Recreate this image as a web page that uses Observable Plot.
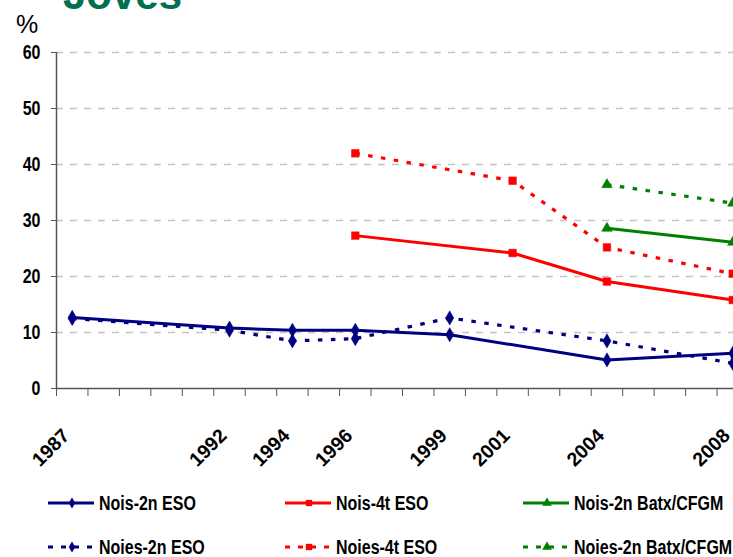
<!DOCTYPE html>
<html>
<head>
<meta charset="utf-8">
<script src="https://cdn.jsdelivr.net/npm/d3@7"></script>
<script src="https://cdn.jsdelivr.net/npm/@observablehq/plot@0.6"></script>
<style>
  html, body { margin: 0; padding: 0; background: #fff; }
  body { width: 733px; height: 557px; overflow: hidden; position: relative;
         font-family: "Liberation Sans", Arial, sans-serif; }
  #title { position: absolute; left: 63px; top: -26px;
           font-weight: bold; font-size: 42px; line-height: 42px; color: #00704F; white-space: nowrap; }
  #pct { position: absolute; left: 16px; top: 12px;
         font-size: 25px; line-height: 25px; color: #000; }
  #chart { position: absolute; left: 0; top: 0; width: 760px; }
  #chart svg { max-width: none !important; width: 760px; height: 470px; }
  .leg { position: absolute; display: flex; align-items: center; white-space: nowrap;
         font-weight: bold; font-size: 19.5px; color: #000; height: 24px; }
  .leg svg { display: block; margin-right: 5px; flex: none; }
  .leg span { display: inline-block; transform: scaleX(0.82); transform-origin: 0 50%; }
</style>
</head>
<body>
<div id="title">Joves</div>
<div id="pct">%</div>
<div id="chart"></div>
<div id="legend"></div>
<script>
// ---- data ----
const tickYears = [1987, 1992, 1994, 1996, 1999, 2001, 2004, 2008];
const yearsESO2 = [1987, 1992, 1994, 1996, 1999, 2004, 2008];
const noisESO2  = [12.7, 10.8, 10.4, 10.4, 9.6, 5.1, 6.3];
const noiesESO2 = [12.5, 10.4, 8.5, 8.9, 12.6, 8.5, 4.5];
const yearsESO4 = [1996, 2001, 2004, 2008];
const noisESO4  = [27.3, 24.2, 19.1, 15.8];
const noiesESO4 = [42.0, 37.1, 25.2, 20.5];
const yearsBatx = [2004, 2008];
const noisBatx  = [28.6, 26.1];
const noiesBatx = [36.4, 33.1];
const seriesNames = ["Nois-2n ESO", "Nois-4t ESO", "Nois-2n Batx/CFGM",
                     "Noies-2n ESO", "Noies-4t ESO", "Noies-2n Batx/CFGM"];

const navy = "#000080", red = "#FF0000", green = "#008000";
const mk = (years, vals) => years.map((y, i) => ({year: y, value: vals[i]}));

const series = [
  {name: seriesNames[3], data: mk(yearsESO2, noiesESO2), color: navy, dash: true,  symbol: "diamond", r: 4.3},
  {name: seriesNames[0], data: mk(yearsESO2, noisESO2),  color: navy, dash: false, symbol: "diamond", r: 4.3},
  {name: seriesNames[4], data: mk(yearsESO4, noiesESO4), color: red,  dash: true,  symbol: "square",  r: 4.3},
  {name: seriesNames[1], data: mk(yearsESO4, noisESO4),  color: red,  dash: false, symbol: "square",  r: 4.3},
  {name: seriesNames[5], data: mk(yearsBatx, noiesBatx), color: green, dash: true,  symbol: "triangle", r: 3.9},
  {name: seriesNames[2], data: mk(yearsBatx, noisBatx),  color: green, dash: false, symbol: "triangle", r: 3.9}
];

const boundaries = d3.range(1986.5, 2009.5, 1);
const marks = [
  Plot.gridY([10, 20, 30, 40, 50, 60], {stroke: "#c4c4c4", strokeOpacity: 1, strokeWidth: 1.5, strokeDasharray: "7,7"}),
  Plot.axisY([0, 10, 20, 30, 40, 50, 60], {tickSize: 5, tickPadding: 11, stroke: "#555", fill: "#000",
    fontSize: 19.5, fontWeight: "bold", label: null, tickFormat: d => String(d), className: "yax"}),
  Plot.ruleX([1986.5], {y1: 0, y2: 60, stroke: "#555", strokeWidth: 1.5}),
  Plot.ruleY([0], {stroke: "#555", strokeWidth: 1.5}),
  Plot.axisX(boundaries, {tickSize: 8, stroke: "#555", tickFormat: () => "", label: null}),
  Plot.axisX(tickYears, {tickSize: 0, tickPadding: 44, tickRotate: -45, dx: -6, fill: "#000",
    fontSize: 19.5, fontWeight: "bold", label: null, tickFormat: d => String(d)})
];
for (const s of series) {
  marks.push(Plot.line(s.data, {x: "year", y: "value", stroke: s.color, strokeWidth: s.dash ? 3.2 : 3,
    strokeDasharray: s.dash ? "4.5,8.5" : null, strokeLinecap: "butt", strokeLinejoin: "round"}));
}
for (const s of series) {
  marks.push(Plot.dot(s.data, {x: "year", y: "value", symbol: s.symbol, r: s.r, fill: s.color, stroke: s.color, strokeWidth: 0.5}));
}

const chart = Plot.plot({
  width: 760,
  height: 470,
  marginLeft: 56,
  marginRight: 12,
  marginTop: 52,
  marginBottom: 82,
  x: {type: "linear", domain: [1986.5, 2008.5], axis: null},
  y: {domain: [0, 60], axis: null},
  style: {fontFamily: "'Liberation Sans', Arial, sans-serif",
          fontSize: "19.5px", color: "#000", background: "transparent", overflow: "visible", maxWidth: "none"},
  marks
});
document.getElementById("chart").appendChild(chart);

// condense the bold y tick labels (the reference uses a narrow bold face there)
chart.querySelectorAll("text").forEach(t => {
  const rotated = (t.getAttribute("transform") || "").includes("rotate");
  const w = t.getComputedTextLength();
  if (!rotated && w > 0) {
    t.setAttribute("textLength", (w * 0.82).toFixed(2));
    t.setAttribute("lengthAdjust", "spacingAndGlyphs");
  }
});

// ---- legend (below the plot) ----
const legendItems = [
  {label: seriesNames[0], color: navy, dash: false, symbol: "diamond", left: 48, top: 491},
  {label: seriesNames[1], color: red, dash: false, symbol: "square", left: 285, top: 491},
  {label: seriesNames[2], color: green, dash: false, symbol: "triangle", left: 523, top: 491},
  {label: seriesNames[3], color: navy, dash: true, symbol: "diamond", left: 48, top: 535},
  {label: seriesNames[4], color: red, dash: true, symbol: "square", left: 285, top: 535},
  {label: seriesNames[5], color: green, dash: true, symbol: "triangle", left: 523, top: 535}
];
const symMap = {diamond: d3.symbolDiamond, square: d3.symbolSquare, triangle: d3.symbolTriangle};
const legend = document.getElementById("legend");
for (const it of legendItems) {
  const div = document.createElement("div");
  div.className = "leg";
  div.style.left = it.left + "px";
  div.style.top = it.top + "px";
  const svg = d3.create("svg").attr("width", 46).attr("height", 24);
  svg.append("line").attr("x1", 0).attr("x2", 46).attr("y1", 12).attr("y2", 12)
    .attr("stroke", it.color).attr("stroke-width", 3)
    .attr("stroke-dasharray", it.dash ? "5,8" : null);
  svg.append("path").attr("transform", "translate(24,12)")
    .attr("d", d3.symbol(symMap[it.symbol], it.symbol === "diamond" ? 36 : 40)())
    .attr("fill", it.color);
  div.appendChild(svg.node());
  const span = document.createElement("span");
  span.textContent = it.label;
  div.appendChild(span);
  legend.appendChild(div);
}
</script>
</body>
</html>
